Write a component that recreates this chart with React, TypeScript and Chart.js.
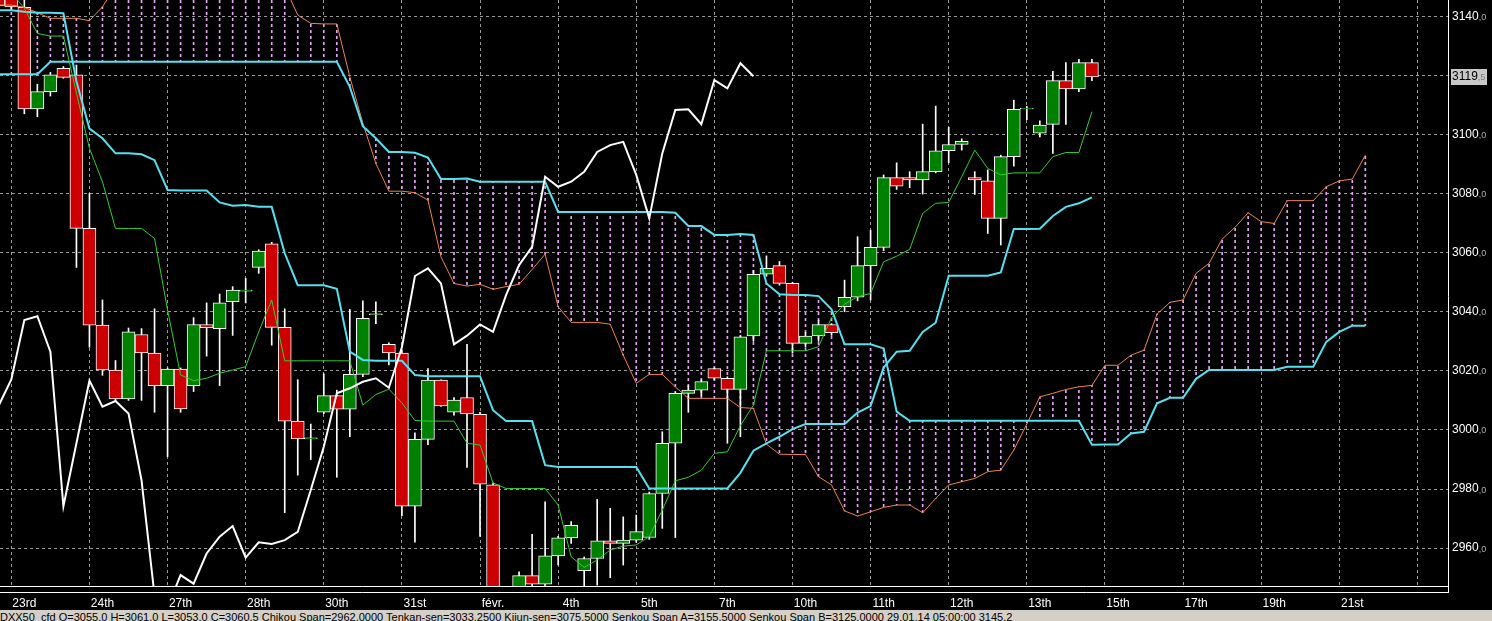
import { useEffect, useRef } from 'react';
import { Chart, registerables } from 'chart.js';

Chart.register(...registerables);

// bar slots: slot 0 is the first bar under the "23rd" label, arrays start at slot -2
const FIRST_SLOT = -2;

// time axis labels, one every 6 bars starting at slot 0
const dayLabels = ['23rd', '24th', '27th', '28th', '30th', '31st', 'févr.', '4th', '5th', '7th', '10th', '11th', '12th', '13th', '15th', '17th', '19th', '21st'];
const LABEL_STEP = 6;

const priceTicks = [2960, 2980, 3000, 3020, 3040, 3060, 3080, 3100, 3120, 3140];

// candles, slots -2 .. 82
const opens = [
  3152, 3146,
  3143, 3108.6, 3114.5, 3122.4, 3120.2, 3068.2, 3035.5, 3020.3, 3010.5, 3032.3,
  3026, 3015, 3020.6, 3015, 3035.7, 3034.3, 3043.4, 3047, 3055, 3063,
  3034.7, 3003, 2997, 3006, 3011.6, 3007, 3018.8, 3039, 3029, 3026,
  2974.2, 2996.8, 3016.9, 3006, 3011, 3005.3, 2981.4, 2944, 2945, 2950.7,
  2947.8, 2957.4, 2963.5, 2952.4, 2956.5, 2962.5, 2961.6, 2962.7, 2963.6, 2978.5,
  2995.5, 3012.4, 3013.5, 3020.8, 3017.5, 3013.7, 3031.8, 3052.7, 3055.6, 3049.6,
  3029.3, 3031.8, 3035.7, 3041.7, 3044.9, 3055.6, 3061.8, 3085.4, 3085.4, 3084.6,
  3087.4, 3094.5, 3096.6, 3085.4, 3084.3, 3071.6, 3092.5, 3108.6, 3100.4, 3103.4,
  3118.2, 3115.4, 3124.3,
];
const highs = [
  3155, 3150,
  3146, 3117, 3121, 3123, 3123.5, 3080, 3044, 3023.5, 3034.5, 3034.3,
  3041, 3021, 3021, 3038, 3043, 3046, 3048.5, 3051.3, 3061, 3063.5,
  3041, 3017, 3002, 3019, 3013.5, 3040.8, 3043.7, 3043.4, 3029.5, 3027,
  2999, 3020.8, 3017, 3011, 3029, 3006, 2982, 2946, 2952, 2964.7,
  2975.7, 2964, 2969, 2957, 2976.5, 2973.5, 2970.6, 2971.2, 2979, 2999.4,
  3013, 3015, 3017, 3021, 3018, 3032, 3054, 3058.9, 3057, 3050,
  3033, 3037, 3036, 3050.7, 3065.4, 3067.6, 3086.3, 3090.4, 3087.4, 3103.5,
  3109.6, 3102.4, 3098.5, 3087.4, 3088, 3093, 3111.6, 3109.5, 3104.6, 3121.4,
  3124.3, 3125.4, 3125.4,
];
const lows = [
  3142, 3142,
  3107, 3106, 3113, 3119, 3055, 3028, 3018.5, 3010, 3010, 3010,
  3006, 2991, 3006, 3013, 3025, 3015, 3032, 3043, 3053, 3028.7,
  2972, 2984.7, 2990, 3005.5, 2984, 2997.7, 3018, 3036, 3022, 2971,
  2962, 2995, 3008, 3005, 2987.3, 2964, 2940, 2935, 2940, 2945,
  2946, 2954.3, 2961.6, 2947, 2947.5, 2950, 2954.3, 2962, 2963, 2966.7,
  2963.6, 3006, 3011.5, 3017, 2995.5, 2997.7, 3030, 3052, 3049, 3026,
  3028, 3030, 3032, 3040, 3043.7, 3044, 3060.7, 3081.4, 3082, 3079.8,
  3087, 3090.4, 3094.7, 3079.7, 3066.5, 3062.6, 3089.3, 3105, 3099.2, 3093.6,
  3103.4, 3114.5, 3118.2,
];
const closes = [
  3143.5, 3143.2,
  3108.6, 3114.5, 3120.2, 3119.3, 3068.2, 3035.5, 3020.3, 3010.5, 3033.2, 3026.1,
  3015, 3020.6, 3007.1, 3035.7, 3034.6, 3043, 3047.3, 3047.3, 3060.5, 3034.7,
  3003, 2997, 2997.3, 3011.6, 3007, 3018.8, 3037.8, 3039.3, 3026.1, 2974.2,
  2996.8, 3016.9, 3008.1, 3010.1, 3005.4, 2981.7, 2944, 2940, 2950.7, 2947.8,
  2957.4, 2963.5, 2967.7, 2956.5, 2962.5, 2961.6, 2962.7, 2965.6, 2978.5, 2995.5,
  3012.4, 3013.5, 3016.4, 3017.5, 3013.7, 3031.5, 3052.7, 3054.7, 3049.6, 3029.3,
  3031.8, 3035.7, 3032.9, 3044.9, 3055.6, 3061.8, 3085.4, 3082.5, 3084.6, 3087.4,
  3094.5, 3096.6, 3097.7, 3084.6, 3071.6, 3092.5, 3108.5, 3108.9, 3103.2, 3118.2,
  3115.4, 3124.3, 3119.5,
];

// Tenkan-sen, slots -2 .. 82
const tenkan = [
  3150, 3148,
  3142.7, 3134.2, 3133.3, 3133.3, 3114, 3095.3, 3084, 3068.2, 3068.2, 3068.2,
  3064.8, 3040.6, 3018.6, 3016.7, 3017.5, 3019.2, 3020.3, 3021.4, 3033.2, 3044,
  3023.4, 3023.4, 3023.4, 3023.4, 3023.4, 3023.4, 3008.4, 3012, 3013.8, 3009.2,
  3003.2, 3003, 3003, 3003, 2995.5, 2994.9, 2982.1, 2980.2, 2980.2, 2980.2,
  2980.2, 2974.6, 2957.1, 2953.5, 2956, 2959.4, 2960.7, 2961.1, 2963.9, 2972.9,
  2982.8, 2984, 2986.4, 2992.1, 2992.6, 3001.5, 3008.4, 3026.8, 3026.8, 3026.8,
  3026.8, 3028.2, 3038, 3042.6, 3045.1, 3046.2, 3056.9, 3058.8, 3061.1, 3073.3,
  3076.7, 3077, 3085.7, 3094.7, 3088.5, 3086.3, 3087, 3087, 3087, 3092.5,
  3093.9, 3093.9, 3107.7,
];

// Kijun-sen, slots -2 .. 82
const kijun = [
  3142, 3142,
  3141.5, 3141.2, 3141.2, 3141, 3118, 3102, 3098.7, 3093.6, 3093.6, 3093.3,
  3091.3, 3081.2, 3081, 3081, 3081, 3077, 3075.9, 3076.1, 3075.5, 3075.5,
  3059.8, 3049, 3049, 3049, 3047.8, 3026.5, 3023.7, 3023.4, 3023.4, 3023.4,
  3018.6, 3018.2, 3018.2, 3018.2, 3018.2, 3018.2, 3006.7, 3003, 3003, 3003,
  2988.1, 2987.5, 2987.5, 2987.5, 2987.5, 2987.5, 2987.5, 2987.5, 2980.2, 2980.2,
  2980.2, 2980.2, 2980.2, 2980.2, 2980.2, 2985.5, 2993, 2995.5, 2997.7, 3000.3,
  3002, 3002, 3002, 3002, 3005.9, 3008.1, 3021.1, 3026.5, 3026.8, 3033.2,
  3036.3, 3052.2, 3052.2, 3052.2, 3052.2, 3053.3, 3068, 3068, 3068.1, 3072.4,
  3075.5, 3076.7, 3078.7,
];

// Chikou span, slots -2 .. 56
const chikou = [
  3008, 3017.1,
  3037.2, 3038.5, 3026.5, 2974.2, 2995.5, 3016.7, 3007.9, 3009.8, 3005.6, 2983,
  2944, 2940, 2950.9, 2948, 2958.2, 2963.9, 2967.5, 2956.8, 2962, 2961.4,
  2962.7, 2965.5, 2979.7, 2994.3, 3012.4, 3014.1, 3016.3, 3017.5, 3014.3, 3028,
  3052.1, 3054.7, 3049.6, 3029, 3031.9, 3035.7, 3033.2, 3045.6, 3055.8, 3062,
  3085.7, 3082.3, 3084, 3087.4, 3094.1, 3096.4, 3097.5, 3086.3, 3071.6, 3093.6,
  3108.3, 3108.5, 3103.5, 3118.4, 3115.6, 3124.1, 3119.7,
];

// Senkou span A (orange), slots -2 .. 103
const senkouA = [
  3143.8, 3143.8,
  3143, 3141.2, 3139.3, 3139.3, 3139.3, 3138.5, 3143.2, 3150, 3153, 3155,
  3156, 3157, 3157, 3156, 3156, 3156, 3155.5, 3155.5, 3155.5, 3154,
  3150, 3140.4, 3137.6, 3137.4, 3137.4, 3119.5, 3103.8, 3090.2, 3080.8, 3080.8,
  3080.3, 3077.8, 3058.6, 3049.6, 3048.7, 3049.3, 3047.6, 3048.5, 3049.3, 3054.3,
  3059.5, 3041.7, 3036.4, 3036.4, 3036.4, 3035.8, 3025.3, 3015.8, 3018.8, 3018.8,
  3014.6, 3010.7, 3010.7, 3010.7, 3010.7, 3007.6, 3007.3, 2995.2, 2991.8, 2991.7,
  2991.7, 2984.2, 2981.4, 2972.6, 2970.9, 2972.3, 2973.8, 2974.6, 2974.6, 2972,
  2976.8, 2981.4, 2982.5, 2983.6, 2985.9, 2986.4, 2993.2, 3002, 3011.2, 3012.4,
  3013.7, 3014.6, 3015.1, 3021.9, 3021.9, 3025.3, 3027, 3039.2, 3043.2, 3044,
  3053, 3056.4, 3064.6, 3068.6, 3073.5, 3070.5, 3069.9, 3077.6, 3077.6, 3077.6,
  3082.3, 3084.3, 3084.9, 3093,
];

// Senkou span B (cyan), slots -2 .. 103
const senkouB = [
  3120.4, 3120.4,
  3120.4, 3120.4, 3124.6, 3124.6, 3124.6, 3124.6, 3124.6, 3124.6, 3124.6, 3124.6,
  3124.6, 3124.6, 3124.6, 3124.6, 3124.6, 3124.6, 3124.6, 3124.6, 3124.6, 3124.6,
  3124.6, 3124.6, 3124.6, 3124.6, 3124.6, 3116.1, 3102.8, 3098.7, 3094.1, 3094.1,
  3093.8, 3092.2, 3084.9, 3084.9, 3085.1, 3084, 3084, 3084, 3084, 3084,
  3084, 3073.8, 3073.8, 3073.8, 3073.8, 3073.8, 3073.8, 3073.8, 3073.8, 3073.8,
  3073.5, 3069, 3069, 3066, 3066, 3066.3, 3066, 3049.6, 3045.9, 3045.7,
  3045.7, 3045.3, 3040.8, 3029, 3029, 3029, 3027.6, 3006.2, 3003.1, 3003.1,
  3003.1, 3003.1, 3003.1, 3003.1, 3003.1, 3003.1, 3003.1, 3003.1, 3003.1, 3003.1,
  3003.1, 3003.1, 2995, 2995.1, 2995.1, 2998.8, 2999.4, 3009, 3010.9, 3010.9,
  3017.3, 3020.3, 3020.3, 3020.3, 3020.3, 3020.3, 3020.3, 3021.4, 3021.4, 3021.4,
  3029.8, 3033.2, 3035.3, 3035.3,
];

const statusText =
  'DXX50_cfd O=3055,0 H=3061,0 L=3053,0 C=3060,5 Chikou Span=2962,0000 Tenkan-sen=3033,2500 Kijun-sen=3075,5000 Senkou Span A=3155,5000 Senkou Span B=3125,0000   29.01.14 05:00:00 3145,2';

const X_MIN = -1.87;
const X_MAX = 109.35;
const Y_MIN = 2947.2;
const Y_MAX = 3145.5;

const FONT = '"Liberation Sans", Arial, sans-serif';

const slot = (i: number) => FIRST_SLOT + i;
const toPoints = (arr: number[]) => arr.map((v, i) => ({ x: slot(i), y: v }));

function drawPrice(ctx: CanvasRenderingContext2D, x: number, y: number, value: number, big: string, small: string) {
  const [whole, frac] = value.toFixed(1).split('.');
  ctx.font = `12px ${FONT}`;
  ctx.fillStyle = big;
  ctx.fillText(whole, x, y);
  const w = ctx.measureText(whole).width;
  ctx.font = `9px ${FONT}`;
  ctx.fillStyle = small;
  ctx.fillText(',' + frac, x + w, y + 1);
}

const frame = {
  id: 'frame',
  afterDraw(chart: any) {
    const { ctx, chartArea, scales } = chart;
    const y = scales.y;
    const last = closes[closes.length - 1];
    ctx.save();
    ctx.strokeStyle = '#ffffff';
    ctx.lineWidth = 1;
    ctx.beginPath();
    ctx.moveTo(chartArea.right + 0.5, 0);
    ctx.lineTo(chartArea.right + 0.5, chartArea.bottom + 7);
    ctx.moveTo(0, chartArea.bottom + 0.5);
    ctx.lineTo(chartArea.right + 1, chartArea.bottom + 0.5);
    ctx.moveTo(0, chartArea.bottom + 6.5);
    ctx.lineTo(chartArea.right + 1, chartArea.bottom + 6.5);
    ctx.stroke();

    ctx.textBaseline = 'middle';
    ctx.textAlign = 'left';
    const lx = chartArea.right + 4;
    for (const t of y.ticks) {
      if (Math.abs(t.value - last) < 8) continue;
      drawPrice(ctx, lx, y.getPixelForValue(t.value), t.value, '#ffffff', '#b0b0b0');
    }
    const py = Math.round(y.getPixelForValue(last));
    ctx.fillStyle = '#c8c8c8';
    ctx.fillRect(lx - 1, py - 8, 36, 16);
    drawPrice(ctx, lx, py, last, '#000000', '#7a7a7a');
    ctx.restore();
  },
};

export default function App() {
  const canvasRef = useRef<HTMLCanvasElement>(null);

  useEffect(() => {
    if (!canvasRef.current) return;
    const ctx = canvasRef.current.getContext('2d')!;

    // dashed fill for the cloud
    const pc = document.createElement('canvas');
    pc.width = 1;
    pc.height = 6;
    const pctx = pc.getContext('2d')!;
    pctx.fillStyle = '#e4a6f2';
    pctx.fillRect(0, 0, 1, 3);
    const cloudFill = ctx.createPattern(pc, 'repeat')!;

    const bodies = opens.map((o, i) => ({ x: slot(i), y: [o, closes[i]] }));
    const bodyColors = opens.map((o, i) => (closes[i] >= o ? '#008000' : '#cc0000'));
    const wicks = lows.map((l, i) => ({ x: slot(i), y: [l, highs[i]] }));
    const cloud = senkouA.map((a, i) => ({ x: slot(i), y: [Math.min(a, senkouB[i]), Math.max(a, senkouB[i])] }));

    const line = (data: any[], color: string, width: number, order: number) => ({
      type: 'line' as const,
      data,
      borderColor: color,
      borderWidth: width,
      pointRadius: 0,
      tension: 0,
      fill: false,
      order,
    });

    const chart = new Chart(canvasRef.current, {
      type: 'line',
      data: {
        datasets: [
          line(toPoints(chikou), '#ffffff', 2, 0),
          line(toPoints(tenkan), '#33cc33', 1, 0),
          line(toPoints(kijun), '#55e0f0', 2, 0),
          line(toPoints(senkouB), '#55e0f0', 2, 0),
          line(toPoints(senkouA), '#f0834a', 1, 0),
          {
            type: 'bar',
            data: bodies as any,
            backgroundColor: bodyColors,
            borderColor: '#ffffff',
            borderWidth: 1,
            borderSkipped: false,
            barThickness: 13,
            grouped: false,
            order: 1,
          },
          {
            type: 'bar',
            data: wicks as any,
            backgroundColor: '#ffffff',
            barThickness: 1,
            grouped: false,
            order: 2,
          },
          {
            type: 'bar',
            data: cloud as any,
            backgroundColor: cloudFill,
            barThickness: 1,
            grouped: false,
            order: 3,
          },
        ] as any,
      },
      options: {
        responsive: false,
        animation: false,
        events: [],
        layout: { padding: 0 },
        plugins: { legend: { display: false }, tooltip: { enabled: false } },
        scales: {
          x: {
            type: 'linear',
            position: 'bottom',
            min: X_MIN,
            max: X_MAX,
            offset: false,
            grid: { display: false, drawTicks: false },
            border: { display: false },
            afterBuildTicks: (scale: any) => {
              scale.ticks = dayLabels.map((_, i) => ({ value: i * LABEL_STEP }));
            },
            afterFit: (scale: any) => {
              scale.height = 23;
            },
            ticks: {
              autoSkip: false,
              maxRotation: 0,
              padding: 10,
              color: '#ffffff',
              font: { family: FONT, size: 12 },
              callback: (v: any) => dayLabels[Math.round(Number(v) / LABEL_STEP)] ?? '',
            },
          },
          xg: {
            type: 'linear',
            position: 'bottom',
            min: X_MIN,
            max: X_MAX,
            offset: false,
            grid: { color: '#9a9a9a', lineWidth: 1, drawTicks: false },
            border: { display: false, dash: [3, 3] },
            ticks: { display: false },
            afterBuildTicks: (scale: any) => {
              const t = [];
              for (let v = -1; v <= X_MAX; v += LABEL_STEP) t.push({ value: v });
              scale.ticks = t;
            },
            afterFit: (scale: any) => {
              scale.height = 0;
            },
          },
          y: {
            type: 'linear',
            position: 'right',
            min: Y_MIN,
            max: Y_MAX,
            grid: { color: '#9a9a9a', lineWidth: 1, drawTicks: false },
            border: { display: false, dash: [3, 3] },
            ticks: { display: false },
            afterBuildTicks: (scale: any) => {
              scale.ticks = priceTicks.map((v) => ({ value: v }));
            },
            afterFit: (scale: any) => {
              scale.width = 44;
            },
          },
        },
      },
      plugins: [frame],
    });

    return () => chart.destroy();
  }, []);

  return (
    <div style={{ position: 'fixed', left: 0, top: 0, width: 1492, height: 621, background: '#000', overflow: 'hidden' }}>
      <canvas ref={canvasRef} width={1492} height={609} style={{ display: 'block' }} />
      <div
        style={{
          position: 'absolute',
          left: 0,
          top: 610,
          width: 1492,
          height: 11,
          background: '#d4d0c8',
          color: '#000',
          font: `11px ${FONT}`,
          lineHeight: '14px',
          whiteSpace: 'nowrap',
          overflow: 'hidden',
        }}
      >
        {statusText}
      </div>
    </div>
  );
}
